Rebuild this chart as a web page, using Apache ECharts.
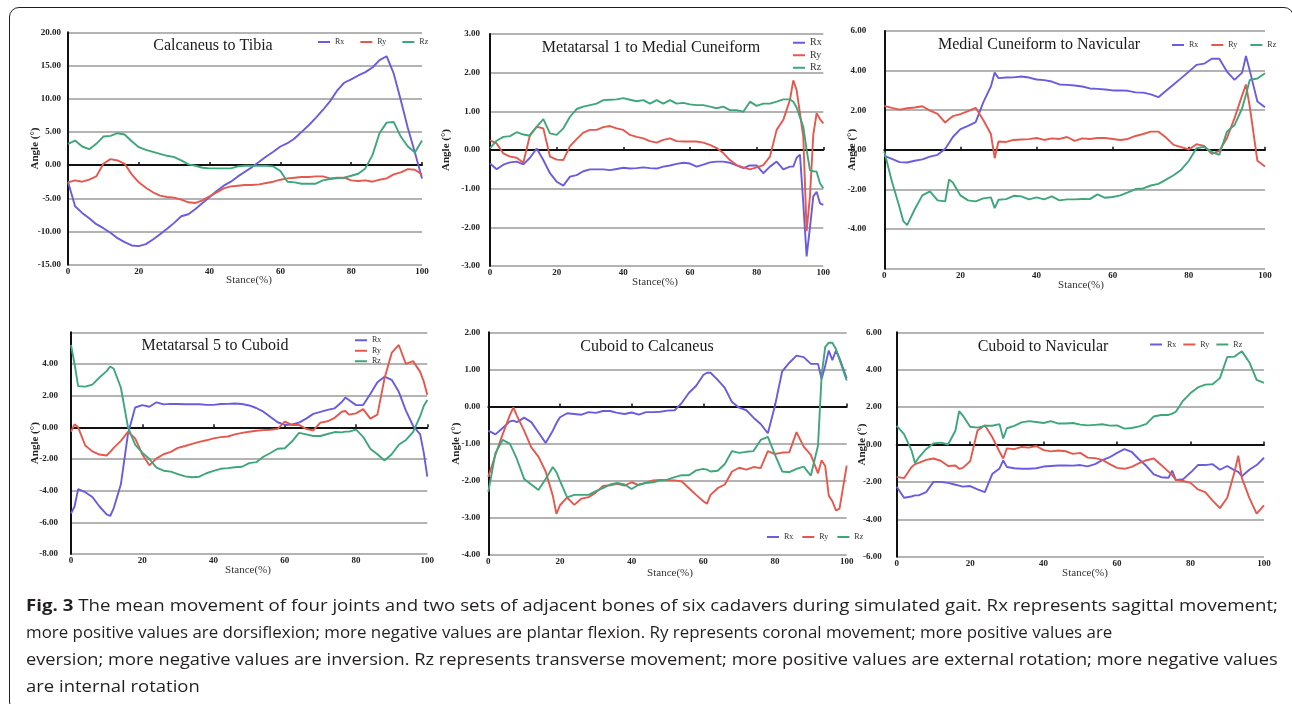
<!DOCTYPE html>
<html>
<head>
<meta charset="utf-8">
<script src="https://cdn.jsdelivr.net/npm/echarts@6/dist/echarts.min.js"></script>
<style>
html,body{margin:0;padding:0;background:#fff;width:1292px;height:704px;overflow:hidden;}
#chart{position:absolute;left:0;top:0;width:1292px;height:704px;}
#frame{position:absolute;left:9px;top:7px;width:1285px;height:705px;border:1.5px solid #231f20;border-radius:10px;box-sizing:border-box;}
#caption{position:absolute;left:26px;top:592px;font-family:"Open Sans",sans-serif;font-size:15.5px;line-height:27px;color:#231f20;white-space:nowrap;}
#caption .ln{transform-origin:0 50%;transform:scaleX(1.15);}
#caption .ln span{display:inline-block;}
#caption b{font-weight:700;}
</style>
</head>
<body>
<div id="frame"></div>
<div id="chart"></div>
<div id="caption">
<div class="ln" data-w="1252"><span><b>Fig. 3</b> The mean movement of four joints and two sets of adjacent bones of six cadavers during simulated gait. Rx represents sagittal movement;</span></div>
<div class="ln" data-w="1086"><span>more positive values are dorsiflexion; more negative values are plantar flexion. Ry represents coronal movement; more positive values are</span></div>
<div class="ln" data-w="1252"><span>eversion; more negative values are inversion. Rz represents transverse movement; more positive values are external rotation; more negative values</span></div>
<div class="ln" data-w="174"><span>are internal rotation</span></div>
</div>
<script>
// ---------------- DATA ----------------
const seriesNames = ['Rx', 'Ry', 'Rz'];
const xTicks = [0, 20, 40, 60, 80, 100];

// Panel 1: Calcaneus to Tibia
const p1Title = 'Calcaneus to Tibia';
const p1Stance = [0,2,4,6,8,10,12,14,16,18,20,22,24,26,28,30,32,34,36,38,40,42,44,46,48,50,52,54,56,58,60,62,64,66,68,70,72,74,76,78,80,82,84,86,88,90,92,94,96,98,100];
const p1Rx = [-2.5,-6.2,-7.2,-8.0,-8.9,-9.5,-10.2,-11.0,-11.6,-12.1,-12.2,-11.9,-11.2,-10.4,-9.6,-8.7,-7.7,-7.4,-6.6,-5.7,-4.8,-3.9,-3.1,-2.5,-1.7,-1.0,-0.3,0.5,1.3,2.0,2.8,3.3,4.0,5.0,6.0,7.1,8.3,9.6,11.2,12.4,12.9,13.5,14.0,14.7,15.8,16.4,13.8,9.8,5.6,1.9,-2.0];
const p1Ry = [-2.6,-2.3,-2.5,-2.2,-1.7,0.2,0.9,0.7,0.2,-1.4,-2.6,-3.4,-4.1,-4.6,-4.8,-4.9,-5.2,-5.6,-5.7,-5.3,-4.7,-4.1,-3.5,-3.2,-3.1,-3.0,-3.0,-2.9,-2.7,-2.5,-2.2,-2.0,-1.9,-1.8,-1.8,-1.7,-1.7,-2.0,-1.9,-1.9,-2.3,-2.4,-2.3,-2.5,-2.2,-2.0,-1.4,-1.1,-0.6,-0.7,-1.4];
const p1Rz = [3.2,3.7,2.8,2.4,3.2,4.3,4.4,4.8,4.6,3.6,2.7,2.3,2.0,1.7,1.4,1.2,0.7,0.1,-0.1,-0.4,-0.5,-0.5,-0.5,-0.5,-0.2,-0.1,-0.1,-0.1,-0.1,-0.2,-0.9,-2.5,-2.6,-2.8,-2.8,-2.8,-2.3,-2.1,-2.0,-1.9,-1.6,-1.3,-0.5,1.5,4.8,6.4,6.5,4.3,2.8,1.9,3.7];

// Panel 2: Metatarsal 1 to Medial Cuneiform
const p2Title = 'Metatarsal 1 to Medial Cuneiform';
const p2Stance = [0,2,4,6,8,10,12,14,16,18,20,22,24,26,28,30,32,34,36,38,40,42,44,46,48,50,52,54,56,58,60,62,64,66,68,70,72,74,76,78,80,82,84,86,88,90,91,92,93,94,95,96,97,98,99,100];
const p2Rx = [-0.35,-0.5,-0.38,-0.32,-0.3,-0.37,-0.2,0.04,-0.26,-0.6,-0.82,-0.92,-0.69,-0.65,-0.55,-0.5,-0.5,-0.5,-0.52,-0.49,-0.46,-0.48,-0.47,-0.45,-0.47,-0.48,-0.43,-0.4,-0.36,-0.33,-0.35,-0.43,-0.38,-0.32,-0.3,-0.3,-0.33,-0.4,-0.47,-0.4,-0.4,-0.6,-0.43,-0.3,-0.5,-0.43,-0.43,-0.2,-0.12,-1.38,-2.75,-2.0,-1.2,-1.08,-1.38,-1.42];
const p2Ry = [0.25,0.17,-0.09,-0.17,-0.2,-0.33,0.39,0.6,0.56,-0.17,-0.25,-0.26,0.1,0.28,0.45,0.52,0.52,0.59,0.62,0.56,0.52,0.39,0.34,0.3,0.23,0.19,0.26,0.3,0.23,0.22,0.22,0.22,0.19,0.13,0.05,-0.08,-0.26,-0.39,-0.45,-0.5,-0.45,-0.39,-0.17,0.52,0.78,1.3,1.8,1.55,0.95,0.34,-2.1,-1.2,0.4,0.95,0.8,0.69];
const p2Rz = [0.05,0.24,0.34,0.36,0.46,0.4,0.37,0.6,0.8,0.43,0.39,0.56,0.86,1.06,1.12,1.16,1.2,1.29,1.3,1.31,1.34,1.3,1.26,1.29,1.2,1.29,1.2,1.29,1.2,1.22,1.18,1.16,1.16,1.12,1.08,1.12,1.03,1.03,0.99,1.25,1.14,1.2,1.2,1.25,1.31,1.31,1.25,1.1,0.85,0.6,0.0,-0.52,-0.55,-0.56,-0.86,-0.99];

// Panel 3: Medial Cuneiform to Navicular
const p3Title = 'Medial Cuneiform to Navicular';
const p3Stance = [0,2,4,5,6,8,10,12,14,16,17,18,20,22,24,26,28,29,30,32,34,36,38,40,42,44,46,48,50,52,54,56,58,60,62,64,66,68,70,72,74,76,78,80,82,84,86,88,90,92,94,95,96,98,100];
const p3Rx = [-0.3,-0.45,-0.62,-0.63,-0.64,-0.55,-0.48,-0.34,-0.25,0.05,0.35,0.65,1.05,1.21,1.4,2.4,3.2,3.9,3.62,3.65,3.66,3.7,3.65,3.55,3.52,3.45,3.3,3.28,3.25,3.2,3.1,3.08,3.05,3.0,3.0,2.98,2.9,2.89,2.8,2.66,2.98,3.3,3.62,3.95,4.29,4.35,4.6,4.6,3.95,3.53,3.9,4.74,4.0,2.44,2.15];
const p3Ry = [2.22,2.12,2.03,2.06,2.1,2.14,2.2,1.98,1.82,1.38,1.55,1.7,1.8,1.95,2.12,1.51,0.8,-0.42,0.42,0.4,0.5,0.52,0.54,0.6,0.5,0.58,0.55,0.65,0.45,0.58,0.55,0.6,0.6,0.55,0.5,0.55,0.7,0.8,0.92,0.92,0.62,0.25,0.14,0.02,0.28,0.2,-0.2,-0.05,0.59,1.6,2.75,3.3,2.18,-0.55,-0.84];
const p3Rz = [-0.08,-1.6,-2.9,-3.6,-3.8,-3.0,-2.3,-2.1,-2.55,-2.6,-1.5,-1.65,-2.3,-2.55,-2.6,-2.45,-2.4,-2.94,-2.52,-2.49,-2.32,-2.35,-2.5,-2.4,-2.5,-2.35,-2.55,-2.5,-2.5,-2.48,-2.49,-2.25,-2.42,-2.38,-2.3,-2.15,-1.98,-1.95,-1.8,-1.72,-1.5,-1.28,-1.0,-0.55,0.08,0.15,-0.1,-0.25,0.92,1.25,2.1,2.8,3.53,3.6,3.87];

// Panel 4: Metatarsal 5 to Cuboid
const p4Title = 'Metatarsal 5 to Cuboid';
const p4Stance = [0,1,2,4,6,8,10,11,12,14,16,18,20,22,24,26,28,30,32,34,36,38,40,42,44,46,48,50,52,54,56,58,60,62,64,66,68,70,72,74,76,77,78,80,82,84,86,88,90,92,94,96,98,99,100];
const p4Rx = [-5.44,-5.0,-3.9,-4.1,-4.4,-5.0,-5.5,-5.6,-5.1,-3.6,-0.4,1.25,1.4,1.3,1.58,1.45,1.48,1.47,1.46,1.46,1.46,1.42,1.42,1.47,1.48,1.5,1.47,1.38,1.22,0.99,0.65,0.32,0.15,0.18,0.3,0.55,0.85,0.97,1.1,1.2,1.6,1.88,1.72,1.4,1.41,2.1,2.85,3.2,3.0,2.24,1.05,0.1,-0.45,-1.6,-3.12];
const p4Ry = [-0.27,0.19,0.0,-1.15,-1.52,-1.72,-1.78,-1.55,-1.3,-0.86,-0.28,-0.7,-1.7,-2.4,-1.96,-1.7,-1.55,-1.3,-1.18,-1.05,-0.92,-0.82,-0.7,-0.62,-0.58,-0.45,-0.35,-0.28,-0.22,-0.18,-0.15,-0.1,0.36,0.15,0.15,-0.1,-0.2,0.3,0.38,0.6,0.98,1.03,0.8,0.88,1.15,0.55,0.8,3.1,4.7,5.2,4.0,4.18,3.5,2.9,2.05];
const p4Rz = [5.2,4.0,2.6,2.57,2.7,3.15,3.55,3.84,3.7,2.5,0.0,-1.1,-1.6,-2.0,-2.55,-2.74,-2.8,-2.95,-3.1,-3.15,-3.12,-2.9,-2.75,-2.62,-2.58,-2.52,-2.49,-2.26,-2.2,-1.86,-1.62,-1.35,-1.32,-0.9,-0.35,-0.45,-0.55,-0.55,-0.42,-0.3,-0.32,-0.27,-0.27,-0.15,-0.6,-1.35,-1.7,-2.1,-1.7,-1.1,-0.8,-0.3,0.7,1.35,1.73];

// Panel 5: Cuboid to Calcaneus
const p5Title = 'Cuboid to Calcaneus';
const p5Stance = [0,2,4,6,7,8,10,12,14,16,18,19,20,22,24,26,28,30,32,34,36,38,40,42,44,46,48,50,52,54,56,58,60,61,62,64,66,68,70,72,74,76,78,80,82,84,86,88,90,92,93,94,95,96,97,98,100];
const p5Rx = [-0.65,-0.75,-0.58,-0.4,-0.38,-0.42,-0.3,-0.42,-0.7,-0.98,-0.65,-0.45,-0.29,-0.18,-0.2,-0.22,-0.15,-0.17,-0.12,-0.12,-0.17,-0.2,-0.16,-0.22,-0.15,-0.15,-0.14,-0.11,-0.1,0.1,0.37,0.56,0.85,0.91,0.91,0.72,0.5,0.12,-0.03,-0.1,-0.3,-0.47,-0.72,0.03,0.95,1.18,1.37,1.33,1.15,1.15,0.74,1.1,1.51,1.25,1.51,1.3,0.76];
const p5Ry = [-1.9,-1.3,-0.75,-0.24,-0.02,-0.25,-0.65,-1.1,-1.35,-1.75,-2.4,-2.89,-2.66,-2.45,-2.65,-2.48,-2.44,-2.32,-2.14,-2.12,-2.08,-2.13,-2.04,-2.12,-2.05,-1.99,-1.98,-1.99,-1.99,-2.02,-2.2,-2.38,-2.55,-2.62,-2.38,-2.2,-2.1,-1.75,-1.65,-1.7,-1.63,-1.66,-1.2,-1.28,-1.24,-1.23,-0.69,-1.08,-1.3,-1.8,-1.45,-1.6,-2.4,-2.55,-2.8,-2.75,-1.59];
const p5Rz = [-2.3,-1.25,-0.9,-1.0,-1.2,-1.42,-1.95,-2.1,-2.25,-1.95,-1.63,-1.77,-2.0,-2.45,-2.38,-2.38,-2.38,-2.28,-2.2,-2.1,-2.06,-2.1,-2.22,-2.1,-2.06,-2.04,-1.99,-1.97,-1.9,-1.85,-1.85,-1.72,-1.68,-1.7,-1.75,-1.73,-1.55,-1.2,-1.25,-1.22,-1.2,-0.9,-0.82,-1.3,-1.75,-1.77,-1.68,-1.62,-1.86,-1.05,0.83,1.6,1.72,1.72,1.55,1.26,0.7];

// Panel 6: Cuboid to Navicular
const p6Title = 'Cuboid to Navicular';
const p6Stance = [0,2,4,5,6,8,10,12,14,16,17,18,20,22,24,26,28,29,30,32,34,36,38,40,42,44,46,48,50,52,54,56,58,60,62,64,66,68,70,72,74,75,76,78,80,82,84,86,88,90,92,93,94,96,98,100];
const p6Rx = [-2.26,-2.85,-2.78,-2.72,-2.72,-2.55,-2.0,-2.0,-2.05,-2.15,-2.2,-2.25,-2.22,-2.4,-2.55,-1.58,-1.28,-0.85,-1.2,-1.27,-1.3,-1.3,-1.27,-1.18,-1.15,-1.12,-1.12,-1.13,-1.1,-1.17,-1.05,-0.84,-0.68,-0.45,-0.25,-0.4,-0.8,-1.15,-1.6,-1.75,-1.78,-1.4,-1.9,-1.85,-1.5,-1.1,-1.1,-1.05,-1.35,-1.15,-1.38,-1.46,-1.7,-1.35,-1.1,-0.71];
const p6Ry = [-1.73,-1.8,-1.22,-1.05,-0.98,-0.82,-0.75,-0.87,-1.15,-1.12,-1.3,-1.25,-0.9,0.75,1.03,0.4,-0.39,-0.75,-0.21,-0.25,-0.13,-0.17,-0.08,-0.3,-0.37,-0.32,-0.36,-0.5,-0.45,-0.7,-0.73,-0.82,-1.05,-1.25,-1.3,-1.2,-1.0,-0.84,-0.75,-1.1,-1.45,-1.64,-1.9,-1.95,-2.05,-2.4,-2.55,-3.0,-3.4,-2.85,-1.45,-0.6,-1.8,-2.85,-3.7,-3.25];
const p6Rz = [1.0,0.55,-0.3,-1.0,-0.7,-0.25,0.05,0.1,0.0,0.75,1.78,1.55,0.95,0.9,1.0,1.0,1.09,0.32,0.87,1.0,1.18,1.25,1.2,1.15,1.25,1.12,1.12,1.15,1.06,1.02,1.05,1.08,1.01,1.02,0.85,0.88,0.97,1.1,1.5,1.58,1.58,1.65,1.75,2.35,2.75,3.05,3.2,3.22,3.55,4.68,4.7,4.85,4.98,4.4,3.45,3.3];

// ---------------- STYLE / LAYOUT ----------------
const SERIF = '"Liberation Serif","Times New Roman",serif';
const COLORS = { Rx: '#6a5bdf', Ry: '#e4584d', Rz: '#3fa67c' };

const panels = [
  { title: p1Title, x: p1Stance, ys: [p1Rx, p1Ry, p1Rz], min: -15, max: 20, step: 5, hide: null,
    grid: { left: 68, top: 32.3, width: 354, height: 232.4 }, titleAt: [213, 46], stanceAt: [249, 280],
    labelMargin: 7, nameGap: 27.5,
    legend: { left: 318, top: 38, orient: 'horizontal', itemGap: 16, fontSize: 8 } },
  { title: p2Title, x: p2Stance, ys: [p2Rx, p2Ry, p2Rz], min: -3, max: 3, step: 1, hide: null,
    grid: { left: 490, top: 34, width: 333.3, height: 232 }, titleAt: [651, 48], stanceAt: [655, 282],
    labelMargin: 10, nameGap: 38.5,
    legend: { left: 793, top: 37.5, orient: 'vertical', itemGap: 2, fontSize: 10 } },
  { title: p3Title, x: p3Stance, ys: [p3Rx, p3Ry, p3Rz], min: -6, max: 6, step: 2, hide: -6,
    grid: { left: 884.3, top: 31, width: 380.7, height: 237.7 }, titleAt: [1039, 45], stanceAt: [1081, 285],
    labelMargin: 18, nameGap: 26.5,
    legend: { left: 1172, top: 41, orient: 'horizontal', itemGap: 13, fontSize: 8 } },
  { title: p4Title, x: p4Stance, ys: [p4Rx, p4Ry, p4Rz], min: -8, max: 6, step: 2, hide: 6,
    grid: { left: 71, top: 332.3, width: 356.3, height: 221.7 }, titleAt: [215, 346], stanceAt: [248, 570],
    labelMargin: 13, nameGap: 30.5,
    legend: { left: 355, top: 336, orient: 'vertical', itemGap: 2, fontSize: 8 } },
  { title: p5Title, x: p5Stance, ys: [p5Rx, p5Ry, p5Rz], min: -4, max: 2, step: 1, hide: null,
    grid: { left: 488.3, top: 332.3, width: 358.4, height: 222.7 }, titleAt: [647, 347], stanceAt: [670, 573],
    labelMargin: 8, nameGap: 26.5,
    legend: { left: 767, top: 533, orient: 'horizontal', itemGap: 9, fontSize: 8 } },
  { title: p6Title, x: p6Stance, ys: [p6Rx, p6Ry, p6Rz], min: -6, max: 6, step: 2, hide: null,
    grid: { left: 896.7, top: 332.3, width: 367.3, height: 224.4 }, titleAt: [1043, 347], stanceAt: [1085, 573],
    labelMargin: 15, nameGap: 29.5,
    legend: { left: 1150, top: 340.5, orient: 'horizontal', itemGap: 7, fontSize: 8 } }
];

const grids = [], xAxes = [], yAxes = [], series = [], legends = [], graphics = [];

panels.forEach((p, i) => {
  grids.push(Object.assign({ containLabel: false }, p.grid));
  xAxes.push({
    type: 'value', gridIndex: i, min: 0, max: 100, interval: 20,
    axisLine: { onZero: true, lineStyle: { color: '#111', width: 2 } },
    axisTick: { show: true, inside: true, length: 3, lineStyle: { color: '#111', width: 1.5 } },
    splitLine: { show: false },
    axisLabel: { margin: 2, fontFamily: SERIF, fontWeight: 'bold', fontSize: 9, color: '#222',
      formatter: v => xTicks.includes(v) ? String(v) : '' }
  });
  const hide = p.hide;
  yAxes.push({
    type: 'value', gridIndex: i, min: p.min, max: p.max, interval: p.step,
    name: 'Angle (°)', nameLocation: 'middle', nameRotate: 90, nameGap: p.nameGap,
    nameMoveOverlap: false,
    nameTextStyle: { fontFamily: SERIF, fontWeight: 'bold', fontSize: 11, color: '#222' },
    axisLine: { show: true, onZero: false, lineStyle: { color: '#111', width: 2 } },
    axisTick: { show: false },
    splitLine: { show: true, lineStyle: { color: '#9a9a9a', width: 1.5 } },
    axisLabel: { margin: p.labelMargin, fontFamily: SERIF, fontWeight: 'bold', fontSize: 9, color: '#222',
      formatter: v => (hide !== null && Math.abs(v - hide) < 1e-9) ? '' : v.toFixed(2) }
  });
  seriesNames.forEach((nm, k) => {
    series.push({
      name: nm, type: 'line', xAxisIndex: i, yAxisIndex: i,
      data: p.x.map((xv, j) => [xv, p.ys[k][j]]),
      showSymbol: false, symbol: 'none', smooth: false,
      lineStyle: { color: COLORS[nm], width: 1.9 },
      itemStyle: { color: COLORS[nm] }
    });
  });
  const lg = p.legend;
  legends.push({
    left: lg.left, top: lg.top, orient: lg.orient, itemGap: lg.itemGap,
    itemWidth: 12, itemHeight: 2, icon: 'rect', padding: 0, selectedMode: false,
    textStyle: { fontFamily: SERIF, fontSize: lg.fontSize, color: '#333', lineHeight: lg.orient === 'vertical' ? (lg.fontSize + 0.5) : lg.fontSize },
    data: seriesNames
  });
  graphics.push({
    type: 'text', x: p.titleAt[0], y: p.titleAt[1],
    style: { text: p.title, font: '16px ' + SERIF, fill: '#1a1a1a', align: 'center', verticalAlign: 'middle' }
  });
  graphics.push({
    type: 'text', x: p.stanceAt[0], y: p.stanceAt[1],
    style: { text: 'Stance(%)', font: '11px ' + SERIF, fill: '#333', align: 'center', verticalAlign: 'middle' }
  });
});

const chart = echarts.init(document.getElementById('chart'), null, { renderer: 'canvas' });
chart.setOption({
  animation: false,
  backgroundColor: 'transparent',
  grid: grids, xAxis: xAxes, yAxis: yAxes, series: series, legend: legends, graphic: graphics
});

// fit each caption line to its width in the reference (offsetWidth ignores transforms)
function fitCaption() {
  document.querySelectorAll('#caption .ln').forEach(l => {
    const w = l.firstElementChild.offsetWidth;
    if (!w) return;
    const s = parseFloat(l.getAttribute('data-w')) / w;
    l.style.transform = 'scaleX(' + s + ')';
  });
}
fitCaption();
if (document.fonts && document.fonts.ready) { document.fonts.ready.then(fitCaption); }
</script>
</body>
</html>
